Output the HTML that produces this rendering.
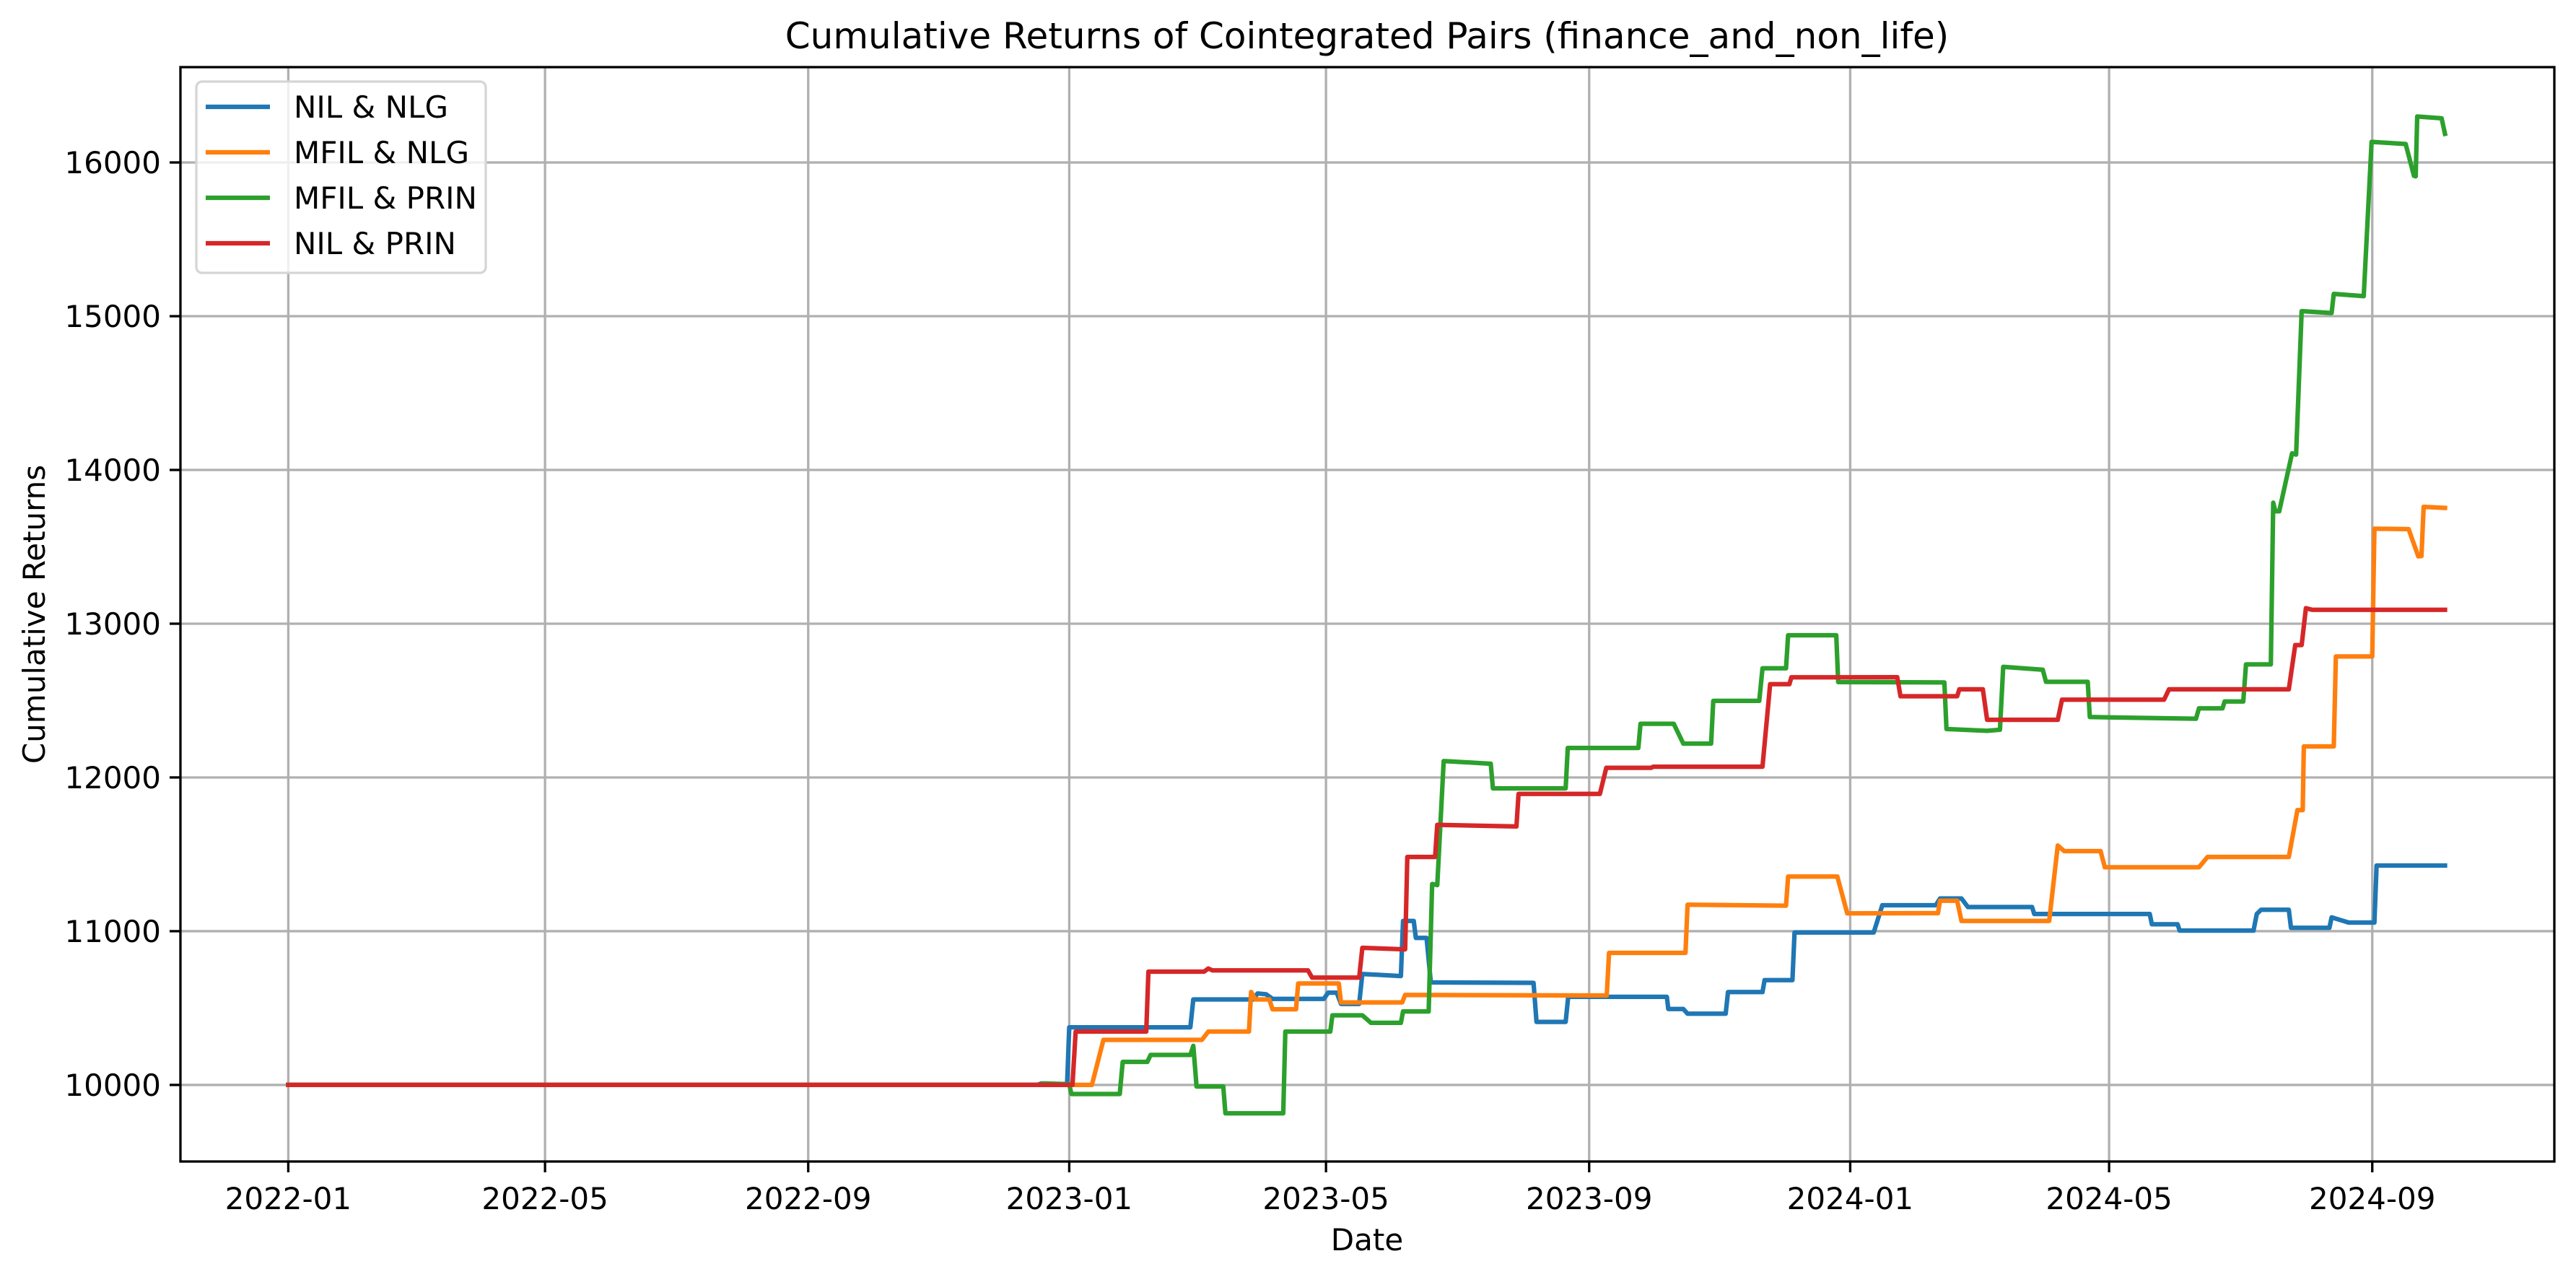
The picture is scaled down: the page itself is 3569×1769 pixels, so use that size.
<!DOCTYPE html>
<html><head><meta charset="utf-8">
<style>
html,body{margin:0;padding:0;background:#fff;}
svg{display:block;font-family:"DejaVu Sans","Liberation Sans",sans-serif;}
</style></head>
<body>
<svg id="chart" width="3569" height="1769" viewBox="0 0 3569 1769" xmlns="http://www.w3.org/2000/svg">
<rect x="0" y="0" width="3569" height="1769" fill="#fff"/>
<text x="1894" y="67" font-size="50" text-anchor="middle">Cumulative Returns of Cointegrated Pairs (finance_and_non_life)</text>
<g id="grid"></g>
<g id="series"></g>
<rect x="250" y="93" width="3289" height="1516" fill="none" stroke="#000" stroke-width="3.3"/>
<g id="ticks"></g>
<text x="1894" y="1732" font-size="42" text-anchor="middle">Date</text>
<text x="0" y="0" font-size="42" text-anchor="middle" transform="translate(62,851) rotate(-90)">Cumulative Returns</text>
<g id="legend"></g>
</svg>
<script>
const startDate = "2022-01-01";
const xTickLabels = ["2022-01","2022-05","2022-09","2023-01","2023-05","2023-09","2024-01","2024-05","2024-09"];
const yTickValues = [10000,11000,12000,13000,14000,15000,16000];
const seriesNames = ["NIL & NLG","MFIL & NLG","MFIL & PRIN","NIL & PRIN"];
const seriesColors = ["#1f77b4","#ff7f0e","#2ca02c","#d62728"];
// [day offset from startDate, cumulative return]
const nilNlg = [[0,10000],[350,10000],[352,10010],[356,10000],[364,10000],[365,10375],[421.6,10375],[423,10556],[451,10556],[453,10595],[457,10590],[460,10560],[484,10560],[486,10600],[490,10600],[492,10527],[500.5,10527],[502,10722],[520,10708],[521,11067],[526,11067],[527,10956],[532,10956],[534,10667],[582,10664],[583.4,10410],[597,10410],[598.2,10573],[644.3,10573],[645,10494],[652,10494],[654,10463],[671.8,10463],[672.9,10604],[689,10604],[690,10682],[703,10682],[704,10992],[741,10992],[745,11169],[770,11169],[772,11213],[782,11213],[785,11157],[815,11157],[816,11112],[870,11112],[871,11045],[883,11045],[884,11004],[918.5,11004],[920,11112],[922,11139],[935,11139],[936,11022],[954,11022],[955,11090],[963,11056],[975,11056],[976,11427],[1008,11427]];
const mfilNlg = [[0,10000],[375.6,10000],[381,10293],[427,10293],[430,10347],[449,10347],[450,10605],[452,10556],[458.5,10556],[460,10492],[471,10492],[472,10660],[491,10660],[492,10537],[520.6,10537],[522,10585],[616.2,10582],[617.3,10859],[653,10859],[654,11172],[700,11166],[701,11355],[724,11355],[728.6,11116],[771,11117],[772,11198],[780,11198],[782,11067],[823,11067],[827,11557],[830,11521],[847,11521],[849,11416],[893,11416],[897,11483],[935,11483],[939,11787],[941.5,11787],[942,12202],[956,12202],[957,12787],[974,12787],[975,13618],[991,13615],[995.5,13438],[997,13440],[998,13760],[1008,13753]];
const mfilPrin = [[0,10000],[352,10000],[353,10010],[365,10005],[366,9941],[388.6,9941],[390,10150],[401.5,10150],[403,10195],[421.6,10195],[423,10254],[424.5,9990],[437,9990],[438,9815],[465,9815],[466,10347],[487,10347],[488,10453],[502,10453],[506,10404],[520,10404],[521,10478],[533,10478],[534.6,11307],[537,11300],[540,12107],[562,12089],[563,11929],[597,11929],[598,12192],[631,12192],[632,12349],[647.5,12349],[652,12220],[665,12220],[666,12498],[687.5,12498],[689,12710],[700,12710],[701,12925],[723.5,12925],[724.4,12620],[774,12618],[775,12315],[794,12303],[800,12310],[801.5,12719],[820,12701],[821.5,12622],[841,12622],[842,12393],[891.6,12382],[893,12449],[904,12449],[905,12494],[913.7,12494],[915,12735],[926.6,12735],[927.7,13787],[928.7,13731],[930.5,13731],[936.5,14108],[938.4,14100],[941,15033],[955,15021],[956,15145],[970,15130],[973.7,16134],[989.6,16120],[993.5,15913],[994.3,15910],[995,16299],[1006.4,16287],[1008,16186]];
const nilPrin = [[0,10000],[366.5,10000],[368,10347],[401,10347],[402,10737],[428,10737],[430,10757],[432,10745],[476.6,10745],[478.5,10698],[500.5,10698],[502,10892],[522,10882],[523,11483],[536,11483],[537,11692],[574,11681],[575,11893],[613,11893],[616,12063],[637,12063],[638,12070],[689,12070],[692.6,12607],[701.6,12607],[702.5,12651],[752,12652],[753.5,12528],[780,12528],[781,12573],[792,12573],[794,12375],[827,12375],[829,12506],[876.7,12506],[879,12573],[935,12573],[938,12861],[941,12861],[943,13101],[946,13090],[1008,13090]];
const allSeries = [nilNlg, mfilNlg, mfilPrin, nilPrin];

const NS = "http://www.w3.org/2000/svg";
const L=250,R=3539,T=93,B=1609;
const dayMin=-50.4, dayMax=1059.1, vMin=9502, vMax=16620;
function xScale(d){return L+(d-dayMin)/(dayMax-dayMin)*(R-L);}
function yScale(v){return B-(v-vMin)/(vMax-vMin)*(B-T);}
function dayOf(label){const s=new Date(startDate+"T00:00:00Z");const d=new Date(label+"-01T00:00:00Z");return (d-s)/86400000;}
function mk(tag,attrs,parent){const e=document.createElementNS(NS,tag);for(const k in attrs)e.setAttribute(k,attrs[k]);parent.appendChild(e);return e;}

const grid=document.getElementById('grid'), ticks=document.getElementById('ticks');
xTickLabels.forEach(lab=>{
  const x=xScale(dayOf(lab));
  const g=mk('line',{x1:x,x2:x,y1:T,y2:B,stroke:'#b0b0b0','stroke-width':3.3},grid);
  
  
  const t=mk('line',{x1:x,x2:x,y1:B,y2:B+15,stroke:'#000','stroke-width':3.3},ticks);
  
  
  const tx=mk('text',{x:x,y:B+66,'font-size':42,'text-anchor':'middle'},ticks);
  tx.textContent=lab;
  
  
});
yTickValues.forEach(v=>{
  const y=yScale(v);
  const g=mk('line',{x1:L,x2:R,y1:y,y2:y,stroke:'#b0b0b0','stroke-width':3.3},grid);
  
  
  const t=mk('line',{x1:L-15,x2:L,y1:y,y2:y,stroke:'#000','stroke-width':3.3},ticks);
  
  
  const tx=mk('text',{x:L-27,y:y+15,'font-size':42,'text-anchor':'end'},ticks);
  tx.textContent=String(v);
  
  
});
const sg=document.getElementById('series');
allSeries.forEach((s,i)=>{
  const pts=s.map(p=>xScale(p[0]).toFixed(1)+','+yScale(p[1]).toFixed(1)).join(' ');
  const pl=mk('polyline',{points:pts,fill:'none',stroke:seriesColors[i],'stroke-width':6.25,'stroke-linejoin':'round','stroke-linecap':'square'},sg);
  
  
});
const lg=document.getElementById('legend');
const box=mk('rect',{x:272,y:113,width:401,height:265,rx:8,fill:'#fff','fill-opacity':0.8,stroke:'#d5d5d5','stroke-width':3.3},lg);


seriesNames.forEach((n,i)=>{
  const y=148+i*63;
  const ln=mk('line',{x1:285,x2:374,y1:y,y2:y,stroke:seriesColors[i],'stroke-width':6.25},lg);
  
  
  const tx=mk('text',{x:407,y:y+15,'font-size':42},lg);
  tx.textContent=n;
  
  
});
</script>
</body></html>
